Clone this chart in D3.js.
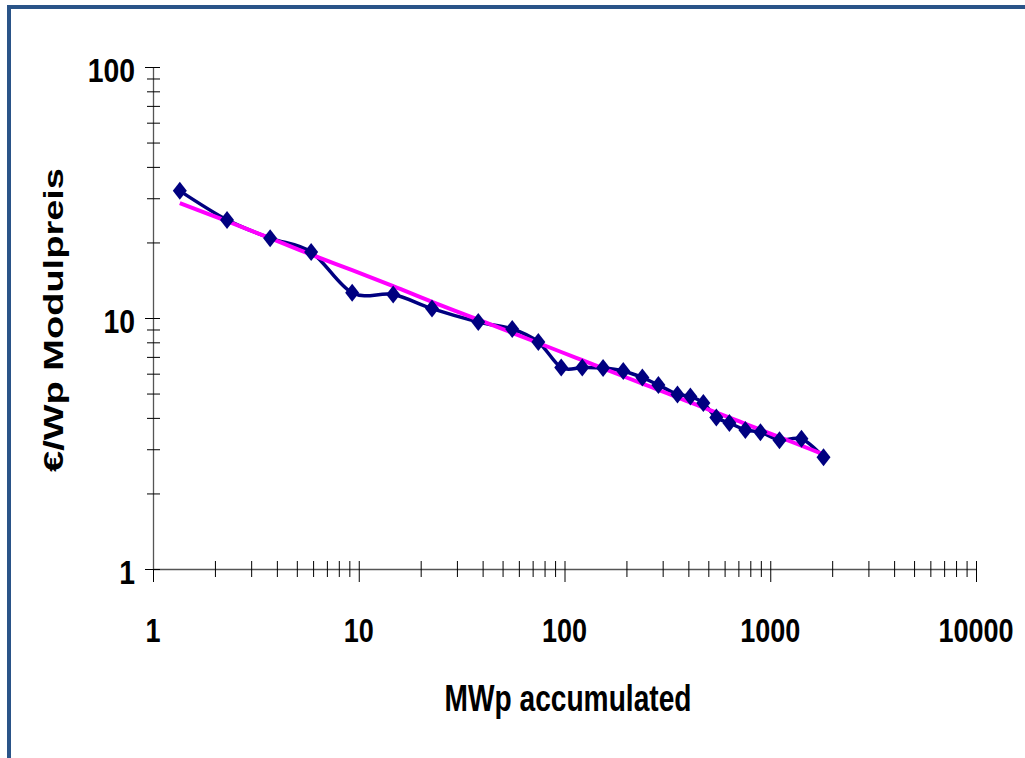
<!DOCTYPE html>
<html>
<head>
<meta charset="utf-8">
<script src="https://cdn.jsdelivr.net/npm/d3@7"></script>
<style>
  html, body { margin: 0; padding: 0; background: #fff; }
  svg { display: block; }
  text { font-family: "Liberation Sans", Arial, Helvetica, sans-serif; font-weight: bold; fill: #000; }
</style>
</head>
<body>
<svg id="chart" width="1025" height="758"></svg>
<script>
// ---- data ----
const mwpAccumulated = [1.35, 2.29, 3.71, 5.87, 9.29, 14.7, 22.7, 38.1, 55.7, 74.6, 96.4, 122, 154, 193, 239, 286, 354, 409, 473, 547, 633, 757, 896, 1109, 1418, 1815];
const modulePrice   = [32.1, 24.6, 20.8, 18.3, 12.6, 12.4, 10.9, 9.64, 9.04, 8.02, 6.35, 6.35, 6.32, 6.15, 5.79, 5.41, 4.96, 4.87, 4.58, 4.01, 3.82, 3.58, 3.51, 3.26, 3.30, 2.79];
const trendPrice    = [28.7, 24.3, 20.8, 17.9, 15.5, 13.4, 11.6, 9.86, 8.73, 7.95, 7.32, 6.79, 6.30, 5.86, 5.48, 5.17, 4.83, 4.61, 4.40, 4.20, 4.01, 3.79, 3.59, 3.35, 3.10, 2.86];
const xTickLabels = ["1", "10", "100", "1000", "10000"];
const xTickValues = [1, 10, 100, 1000, 10000];
const yTickLabels = ["1", "10", "100"];
const yTickValues = [1, 10, 100];
const xTitle = "MWp accumulated";
const yTitle = "€/Wp Modulpreis";

// ---- layout ----
const svg = d3.select("#chart");
svg.append("rect").attr("width", 1025).attr("height", 758).attr("fill", "#fff");

// frame (top and left edges visible)
svg.append("path")
  .attr("d", "M9,758 L9,7 L1025,7")
  .attr("fill", "none")
  .attr("stroke", "#2a5488")
  .attr("stroke-width", 4);

const x = d3.scaleLog().domain([1, 10000]).range([153, 976]);
const y = d3.scaleLog().domain([1, 100]).range([569, 67]);

// x axis
const xAxisG = svg.append("g").attr("transform", "translate(0,569)")
  .call(d3.axisBottom(x).tickValues(x.ticks()).tickSize(0).tickFormat(""));
xAxisG.select(".domain").attr("stroke", "#555").attr("stroke-width", 1.3);
xAxisG.selectAll(".tick line")
  .attr("stroke", "#000")
  .attr("y1", -8)
  .attr("y2", d => (xTickValues.includes(d) ? 13 : 8));

// y axis
const yAxisG = svg.append("g").attr("transform", "translate(153,0)")
  .call(d3.axisLeft(y).tickValues(y.ticks()).tickSize(0).tickFormat(""));
yAxisG.select(".domain").attr("stroke", "#555").attr("stroke-width", 1.3);
yAxisG.selectAll(".tick line")
  .attr("stroke", "#000")
  .attr("x1", d => (yTickValues.includes(d) ? -8 : -6))
  .attr("x2", 7);

// tick labels (horizontally condensed, as in the reference)
svg.append("g").selectAll("text").data(xTickValues).join("text")
  .attr("transform", d => `translate(${x(d)},642) scale(0.82,1)`)
  .attr("text-anchor", "middle")
  .attr("font-size", 33)
  .text((d, i) => xTickLabels[i]);

svg.append("g").selectAll("text").data(yTickValues).join("text")
  .attr("transform", d => `translate(135,${y(d) + 15}) scale(0.86,1)`)
  .attr("text-anchor", "end")
  .attr("font-size", 33)
  .text((d, i) => yTickLabels[i]);

// axis titles
svg.append("text")
  .attr("x", 568)
  .attr("y", 711)
  .attr("text-anchor", "middle")
  .attr("font-size", 36)
  .attr("textLength", 247)
  .attr("lengthAdjust", "spacingAndGlyphs")
  .text(xTitle);

svg.append("text")
  .attr("transform", "translate(63,320) rotate(-90)")
  .attr("text-anchor", "middle")
  .attr("font-size", 27)
  .attr("textLength", 304)
  .attr("lengthAdjust", "spacingAndGlyphs")
  .text(yTitle);

// series
const pts = mwpAccumulated.map((v, i) => ({ x: v, y: modulePrice[i], t: trendPrice[i] }));
const curve = d3.curveCatmullRom.alpha(0);

svg.append("path")
  .datum(pts)
  .attr("fill", "none")
  .attr("stroke", "#000080")
  .attr("stroke-width", 3.5)
  .attr("stroke-linejoin", "round")
  .attr("d", d3.line().x(d => x(d.x)).y(d => y(d.y)).curve(curve));

svg.append("path")
  .datum(pts)
  .attr("fill", "none")
  .attr("stroke", "#ff00ff")
  .attr("stroke-width", 4)
  .attr("d", d3.line().x(d => x(d.x)).y(d => y(d.t)).curve(curve));

svg.append("g").selectAll("path").data(pts).join("path")
  .attr("transform", d => `translate(${x(d.x)},${y(d.y)})`)
  .attr("d", "M0,-9 L7,0 L0,9 L-7,0 Z")
  .attr("fill", "#000080");
</script>
</body>
</html>
